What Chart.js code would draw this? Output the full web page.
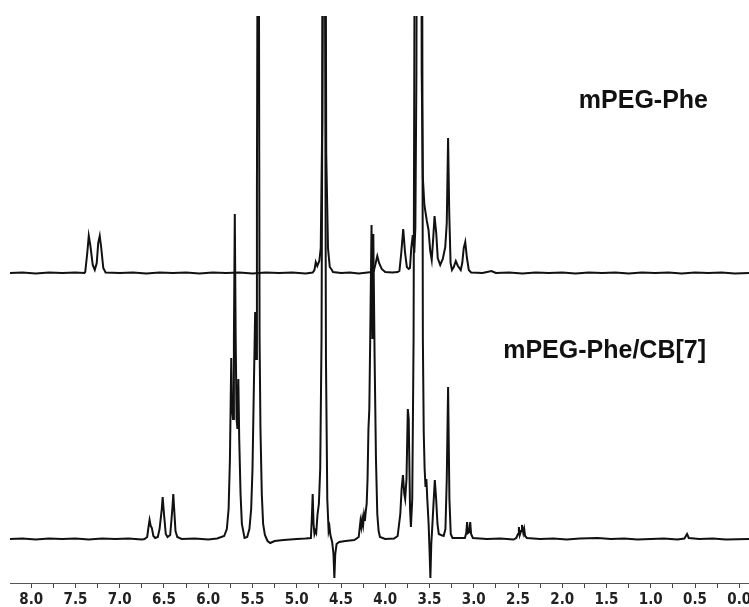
<!DOCTYPE html>
<html>
<head>
<meta charset="utf-8">
<script src="https://cdn.jsdelivr.net/npm/chart.js@4"></script>
<style>
  body { margin: 0; background: #fff; }
</style>
</head>
<body>
<canvas id="nmr" width="749" height="607"></canvas>
<script>
// chemical shift (ppm) and intensity, mPEG-Phe
let topPpm = [8.24, 8.10, 7.95, 7.80, 7.65, 7.50, 7.40, 7.39, 7.367, 7.35, 7.333, 7.305, 7.282, 7.26, 7.243, 7.226, 7.209, 7.186, 7.16,
    7.00, 6.85, 6.70, 6.55, 6.40, 6.25, 6.10, 5.95, 5.80, 5.65, 5.50, 5.35, 5.20, 5.05, 4.90, 4.82,
    4.80, 4.785, 4.768, 4.745, 4.729, 4.712, 4.70, 4.683, 4.667, 4.647, 4.627, 4.61, 4.59, 4.50, 4.40, 4.30, 4.20,
    4.15, 4.13, 4.113, 4.09, 4.07, 4.04, 4.00, 3.92, 3.86, 3.84, 3.819, 3.797, 3.776, 3.756, 3.735, 3.721, 3.706, 3.689, 3.672,
    3.66, 3.648, 3.635, 3.60, 3.588, 3.575, 3.558, 3.53, 3.511, 3.492, 3.475, 3.458, 3.443, 3.424, 3.407, 3.379, 3.35, 3.322,
    3.305, 3.29, 3.277, 3.262, 3.246, 3.226, 3.203, 3.179, 3.147, 3.13, 3.113, 3.096, 3.077, 3.056, 3.03,
    2.90, 2.80, 2.75, 2.60, 2.45, 2.30, 2.15, 2.00, 1.85, 1.70, 1.55, 1.40, 1.25, 1.10, 0.95, 0.80, 0.65, 0.50, 0.35, 0.20, 0.05, -0.11];
let topInt = [0, 0.5, -0.5, 0.5, 0, 0.5, 0, 1, 20, 37, 28, 8, 3, 10, 30, 37, 25, 5, 0.5,
    0, 0.5, -0.5, 0.5, 0, 0.5, -0.5, 0.5, 0, 0.5, -0.5, 0.5, 0, 0.5, -0.5, 0.5,
    3, 11, 7, 12, 25, 150, 700, 700, 120, 25, 6, 4, 1, 0, 0.5, -0.5, 0.5,
    1, 2, 8, 17, 10, 4, 1, 0.5, 1, 2, 20, 44, 20, 6, 4, 5, 25, 38, 20,
    45, 200, 700, 700, 200, 95, 68, 52, 43, 22, 13, 35, 57, 40, 15, 8, 14, 26,
    50, 135, 60, 10, 3, 6, 12, 7, 3, 10, 25, 31, 15, 3, 0.5,
    0, 2, 0, 0.5, -0.5, 0.5, 0, 0.5, -0.5, 0.5, 0, 0.5, -0.5, 0.5, 0, 0.5, -0.5, 0.5, 0, 0.5, -0.5, 0];

// mPEG-Phe/CB[7]
let botPpm = [8.24, 8.10, 7.95, 7.80, 7.65, 7.50, 7.35, 7.20, 7.05, 6.90, 6.75,
    6.72, 6.69, 6.675, 6.663, 6.65, 6.637, 6.62, 6.60, 6.57, 6.55, 6.535, 6.525, 6.515, 6.50, 6.48, 6.46,
    6.43, 6.415, 6.405, 6.395, 6.385, 6.37, 6.35, 6.30, 6.15, 6.00, 5.90,
    5.82, 5.79, 5.77, 5.755, 5.74, 5.73, 5.72, 5.71, 5.70, 5.69, 5.68, 5.67, 5.66, 5.65, 5.635, 5.62, 5.59, 5.56,
    5.535, 5.515, 5.50, 5.485, 5.47, 5.46, 5.45, 5.44, 5.43, 5.42, 5.41, 5.395, 5.38, 5.36, 5.33, 5.30, 5.25, 5.15, 5.00, 4.90,
    4.84, 4.83, 4.82, 4.81, 4.80, 4.79, 4.78, 4.765, 4.75, 4.735, 4.72, 4.70, 4.685, 4.67, 4.655, 4.64, 4.63, 4.62,
    4.60, 4.585, 4.575, 4.565, 4.55, 4.52, 4.45, 4.35,
    4.30, 4.29, 4.28, 4.27, 4.26, 4.25, 4.24, 4.23, 4.22, 4.21, 4.20, 4.19, 4.18, 4.17, 4.155, 4.145, 4.135, 4.12, 4.105, 4.09, 4.075, 4.06, 4.00,
    3.90, 3.86, 3.83, 3.815, 3.80, 3.785, 3.775, 3.76, 3.745, 3.735, 3.72, 3.71, 3.695, 3.68, 3.665, 3.585, 3.575, 3.565,
    3.555, 3.545, 3.535, 3.525, 3.51, 3.50, 3.49, 3.48, 3.47, 3.455, 3.44, 3.425, 3.41, 3.395, 3.37, 3.34,
    3.32, 3.305, 3.29, 3.275, 3.26, 3.24, 3.10, 3.085, 3.075, 3.065, 3.05, 3.04, 3.03, 3.01, 2.85, 2.70, 2.55,
    2.52, 2.50, 2.49, 2.48, 2.465, 2.455, 2.44, 2.43, 2.42, 2.40, 2.25, 2.10, 1.95, 1.80, 1.60, 1.45, 1.30, 1.15, 1.00,
    0.85, 0.70, 0.62, 0.59, 0.57, 0.45, 0.30, 0.15, -0.11];
let botInt = [0, 0.5, -0.5, 0.5, 0, 0.5, -0.5, 0.5, 0, 0.5, -0.5,
    0, 2, 12, 19, 13, 11, 3, 1, 2, 10, 22, 30, 42, 25, 5, 2,
    4, 20, 31, 45, 30, 8, 2, 0, 0.5, -0.5, 0.5,
    3, 10, 30, 80, 181, 130, 120, 200, 325, 200, 120, 110, 160, 100, 45, 15, 1, 2,
    10, 30, 70, 150, 227, 180, 350, 700, 700, 200, 110, 45, 15, 4, -2, -4, -2, -1, 0, 0.5,
    1, 20, 45, 15, 5, 8, 6, 25, 35, 70, 200, 700, 700, 180, 40, 8, 12, 4,
    -3, -15, -39, -15, -5, -3, -2, -1,
    2, 10, 18, 12, 20, 14, 24, 18, 28, 35, 60, 110, 130, 200, 314, 200, 305, 180, 80, 25, 8, 2, 0,
    0.5, 3, 25, 50, 64, 45, 40, 60, 130, 120, 30, 12, 40, 200, 700, 700, 200, 106,
    70, 52, 60, 40, 15, -10, -39, -5, 10, 35, 59, 40, 15, 5, 4, 3,
    10, 60, 152, 40, 5, 1, 1, 6, 17, 6, 7, 17, 5, 1, 0, 0.5, -0.5,
    1, 5, 12, 4, 8, 14, 6, 10, 3, 1, 0, 0.5, -0.5, 0.5, 1, 0, 0.5, -0.5, 0,
    0.5, -0.5, 0.5, 5, 1, 0, 0.5, -0.5, 0];

let traceNames = ["mPEG-Phe", "mPEG-Phe/CB[7]"];
let xTicks = [8.0, 7.5, 7.0, 6.5, 6.0, 5.5, 5.0, 4.5, 4.0, 3.5, 3.0, 2.5, 2.0, 1.5, 1.0, 0.5, 0.0];

// stacking offsets of the two traces on the hidden y scale
let topOffset = 310, botOffset = 44;

function toPoints(ppm, val, off) {
    return ppm.map((p, i) => ({ x: p, y: val[i] + off }));
}

// minor ticks every 0.25 ppm
let allTicks = [];
for (let i = 0; i <= 32; i++) allTicks.push({ value: i * 0.25 });

const labelsPlugin = {
    id: 'traceLabels',
    afterDraw(chart) {
        const ctx = chart.ctx;
        ctx.save();
        ctx.fillStyle = '#111';
        ctx.font = 'bold 25px "Liberation Sans", Arial, sans-serif';
        ctx.textAlign = 'right';
        ctx.textBaseline = 'middle';
        ctx.fillText(traceNames[0], 708, 101);
        ctx.fillText(traceNames[1], 706, 351);
        ctx.restore();
    }
};

const nmrChart = new Chart(document.getElementById('nmr'), {
    type: 'line',
    data: {
        datasets: [
            {
                label: traceNames[0],
                data: toPoints(topPpm, topInt, topOffset),
                borderColor: '#111',
                borderWidth: 2,
                pointRadius: 0,
                tension: 0,
                clip: 0
            },
            {
                label: traceNames[1],
                data: toPoints(botPpm, botInt, botOffset),
                borderColor: '#111',
                borderWidth: 2,
                pointRadius: 0,
                tension: 0,
                clip: 0
            }
        ]
    },
    options: {
        responsive: false,
        animation: false,
        layout: { padding: { top: 16, left: 10, right: 0, bottom: 0 } },
        plugins: { legend: { display: false }, tooltip: { enabled: false } },
        scales: {
            x: {
                type: 'linear',
                reverse: true,
                min: -0.11,
                max: 8.24,
                afterBuildTicks: (scale) => { scale.ticks = allTicks.map(t => ({ value: t.value })); },
                afterFit: (scale) => { scale.height = 24; },
                ticks: {
                    autoSkip: false,
                    maxRotation: 0,
                    padding: 3,
                    color: '#222',
                    font: { family: '"Liberation Sans Narrow", "Arial Narrow", "DejaVu Sans Condensed", sans-serif', size: 15, weight: 'bold' },
                    callback: (v) => xTicks.includes(v) ? v.toFixed(1) : ''
                },
                grid: { drawOnChartArea: false, drawTicks: true, tickLength: 5, color: '#444', lineWidth: 1 },
                border: { display: true, color: '#555', width: 1 }
            },
            y: {
                display: false,
                min: 0,
                max: 567
            }
        }
    },
    plugins: [labelsPlugin]
});
</script>
</body>
</html>
